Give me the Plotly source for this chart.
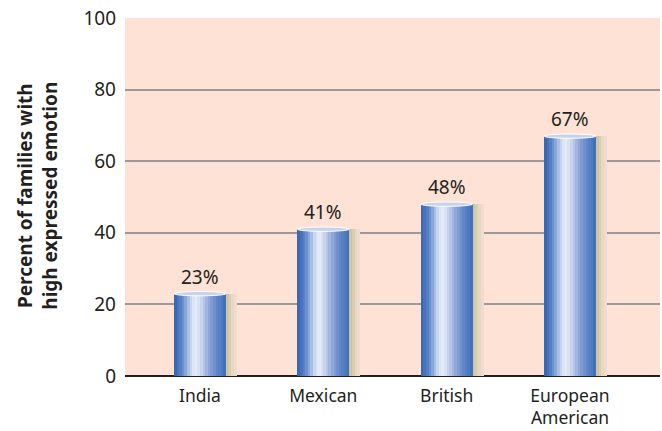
import plotly.graph_objects as go

categories = ["India", "Mexican", "British", "European<br>American"]
values = [23, 41, 48, 67]
value_labels = ["23%", "41%", "48%", "67%"]
y_ticks = [0, 20, 40, 60, 80, 100]
y_title = "Percent of families with<br>high expressed emotion"

# cylinder shading (left -> right)
grad = ["#3a68b2", "#4673bb", "#5580c3", "#6b90cc", "#88a6d7", "#a9bfe3",
        "#c8d5ee", "#dde5f5", "#e4eaf7", "#d9e2f3", "#c7d4ee", "#b4c5e8",
        "#a0b6e0", "#8ea8d9", "#7e9bd3", "#6f8fcd", "#6286c8", "#5680c4",
        "#4c79c0", "#4370bb"]
shadow_cols = ["#cfc5a3", "#d9ceb2", "#e6d8c3", "#f0dccf"]

FONT = "Noto Sans"
TXT = "#231f20"
W = 0.42
N = len(grad)

fig = go.Figure()
xs = list(range(len(categories)))

# shadow
SW = 0.022
for j, c in enumerate(shadow_cols):
    fig.add_trace(go.Bar(x=xs, y=values, width=SW + 0.002, offset=W / 2 + j * SW,
                         marker=dict(color=c, line=dict(width=0)),
                         showlegend=False, hoverinfo="skip"))
# cylinder strips
for i, c in enumerate(grad):
    fig.add_trace(go.Bar(x=xs, y=values, width=W / N + 0.002,
                         offset=-W / 2 + i * W / N,
                         marker=dict(color=c, line=dict(width=0)),
                         showlegend=False, hoverinfo="skip"))

annotations = []
for i, (v, t) in enumerate(zip(values, value_labels)):
    annotations.append(dict(x=i, y=v, xref="x", yref="y", text=t,
                            showarrow=False, yanchor="bottom", yshift=2,
                            font=dict(family=FONT, size=19, color=TXT)))
annotations.append(dict(x=-0.163, y=0.503, xref="paper", yref="paper",
                        text=y_title, textangle=-90, showarrow=False,
                        xanchor="center", yanchor="middle",
                        font=dict(family=FONT, size=19, color=TXT, weight="bold")))

shapes = []
for i, v in enumerate(values):
    shapes.append(dict(type="circle", xref="x", yref="y",
                       x0=i - W / 2, x1=i + W / 2, y0=v - 0.6, y1=v + 0.6,
                       fillcolor="#c6d3ee", line=dict(color="#ffffff", width=1)))

fig.update_layout(
    width=662, height=431,
    margin=dict(l=125, r=2, t=18, b=55),
    paper_bgcolor="white", plot_bgcolor="#fde2d5",
    barmode="overlay", bargap=0,
    shapes=shapes, annotations=annotations,
    font=dict(family=FONT, color=TXT),
    xaxis=dict(tickmode="array", tickvals=xs, ticktext=categories,
               range=[-0.608, 3.73], showgrid=False, zeroline=False,
               showline=False, ticks="", ticklabelstandoff=7,
               automargin=False,
               tickfont=dict(size=17.5, color=TXT)),
    yaxis=dict(range=[0, 100], tickvals=y_ticks, showgrid=True,
               gridcolor="#9a9a9a", gridwidth=1.5, zeroline=True,
               zerolinecolor="#231f20", zerolinewidth=1.5, showline=False,
               ticks="", ticklabelstandoff=8, automargin=False,
               tickfont=dict(size=19, color=TXT)),
)

fig.write_html("out.html", config={"displayModeBar": False},
               post_script="document.body.style.margin='0';")
